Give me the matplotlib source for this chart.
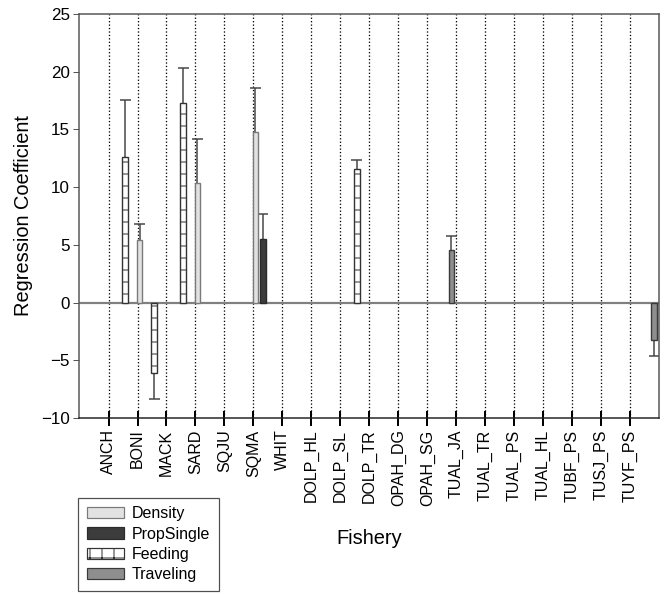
import numpy as np
import matplotlib
matplotlib.use("Agg")
from matplotlib import pyplot as plt
from matplotlib.patches import Patch

plt.rcParams['font.family'] = ['Liberation Sans', 'DejaVu Sans']
plt.rcParams['hatch.linewidth'] = 1.0

nan = np.nan

# fisheries on the x axis
fisheries = ['ANCH', 'BONI', 'MACK', 'SARD', 'SQJU', 'SQMA', 'WHIT', 'DOLP_HL',
             'DOLP_SL', 'DOLP_TR', 'OPAH_DG', 'OPAH_SG', 'TUAL_JA', 'TUAL_TR',
             'TUAL_PS', 'TUAL_HL', 'TUBF_PS', 'TUSJ_PS', 'TUYF_PS']

# regression coefficients (nan = not in model)
density    = [nan, 5.38, nan, 10.37, nan, 14.79, nan, nan, nan, nan, nan, nan, nan, nan, nan, nan, nan, nan, nan]
propsingle = [nan, nan, nan, nan, nan, 5.50, nan, nan, nan, nan, nan, nan, nan, nan, nan, nan, nan, nan, nan]
feeding    = [12.65, -6.10, 17.27, nan, nan, nan, nan, nan, 11.58, nan, nan, nan, nan, nan, nan, nan, nan, nan, nan]
traveling  = [nan, nan, nan, nan, nan, nan, nan, nan, nan, nan, nan, 4.57, nan, nan, nan, nan, nan, nan, -3.22]

# end of the (one sided) error bar
density_err    = [nan, 6.82, nan, 14.18, nan, 18.60, nan, nan, nan, nan, nan, nan, nan, nan, nan, nan, nan, nan, nan]
propsingle_err = [nan, nan, nan, nan, nan, 7.71, nan, nan, nan, nan, nan, nan, nan, nan, nan, nan, nan, nan, nan]
feeding_err    = [17.56, -8.35, 20.36, nan, nan, nan, nan, nan, 12.34, nan, nan, nan, nan, nan, nan, nan, nan, nan, nan]
traveling_err  = [nan, nan, nan, nan, nan, nan, nan, nan, nan, nan, nan, 5.81, nan, nan, nan, nan, nan, nan, -4.67]

series = [
    ('Density',    density,    density_err,    0.07,  '#e2e2e2', '#7a7a7a', None),
    ('PropSingle', propsingle, propsingle_err, 0.33,  '#3c3c3c', '#2a2a2a', None),
    ('Feeding',    feeding,    feeding_err,    0.575, 'white',   '#333333', '-'),
    ('Traveling',  traveling,  traveling_err,  0.835, '#8e8e8e', '#3a3a3a', None),
]

x = np.arange(len(fisheries))
w = 0.2

fig = plt.figure(figsize=(665/72, 594/72), dpi=72)
ax = fig.add_axes([79/665, 1-418/594, 580/665, 404/594])

ax.axhline(0, color='#808080', lw=2.2, zorder=1)

for name, vals, errs, off, fc, ec, hatch in series:
    xs = x + off
    ax.bar(xs, vals, width=w, color=fc, edgecolor=ec, hatch=hatch, lw=1.4, zorder=3)
    ax.vlines(xs, vals, errs, color='#444444', lw=1.5, zorder=2)
    ax.hlines(errs, xs - 0.19, xs + 0.19, color='#444444', lw=1.5, zorder=2)

ax.set_xlim(-1.02, 19.0)
ax.set_ylim(-10, 25)
ax.set_yticks(np.arange(-10, 26, 5))
ax.set_xticks(x)
ax.set_xticklabels(fisheries, rotation=90, fontsize=16)
ax.tick_params(axis='y', labelsize=17, direction='out', length=6, width=1, color='#555555', pad=3)
ax.tick_params(axis='x', direction='inout', length=15, width=2, color='black', pad=4)
ax.grid(axis='x', ls=':', color='black', lw=1.3, zorder=0)
ax.set_axisbelow(True)

for s in ['left', 'top', 'right']:
    ax.spines[s].set_color('#555555')
    ax.spines[s].set_linewidth(1.5)
ax.spines['bottom'].set_color('#222222')
ax.spines['bottom'].set_linewidth(1.5)

ax.set_ylabel('Regression Coefficient', fontsize=20, labelpad=8)
ax.set_xlabel('Fishery', fontsize=20, labelpad=22)

handles = [Patch(facecolor=fc, edgecolor=ec, hatch=('+' if hatch else None), lw=1.2)
           for name, vals, errs, off, fc, ec, hatch in series]
labels = [s[0] for s in series]
leg = fig.legend(handles, labels, loc='lower left', bbox_to_anchor=(78/665, 3/594),
                 fontsize=16, frameon=True, fancybox=False, edgecolor='#222222',
                 handlelength=2.3, handleheight=0.7, labelspacing=0.33,
                 handletextpad=0.5, borderpad=0.55, borderaxespad=0)
leg.get_frame().set_linewidth(1.2)

fig.savefig('out.png', dpi=72)
